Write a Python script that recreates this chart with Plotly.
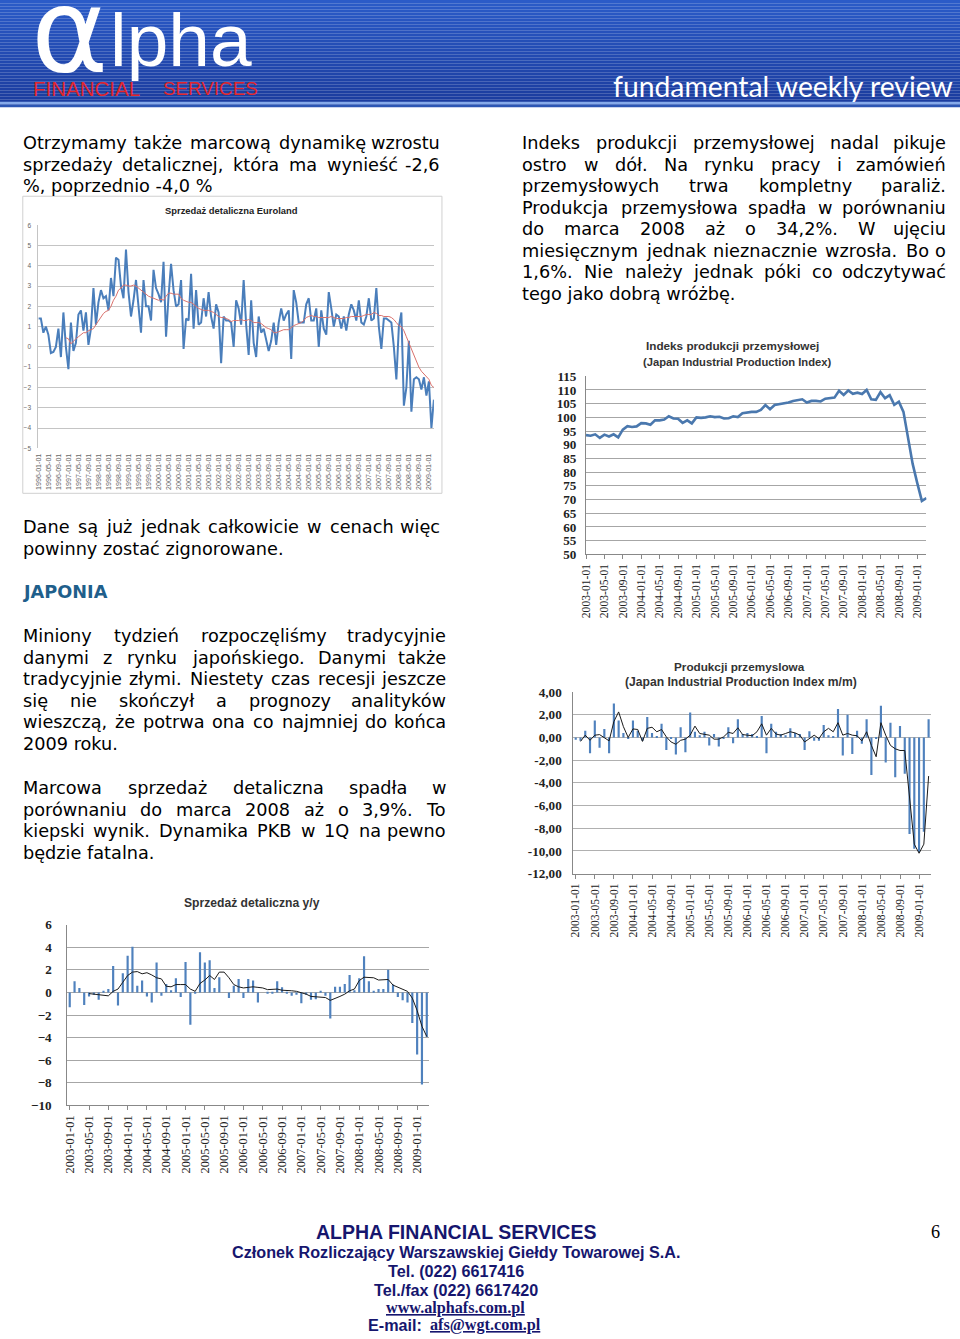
import plotly.graph_objects as go
import pandas as pd

# ------------------------------------------------------------------ DATA
EURO_START = "1996-01-01"
euro_retail = [1.4, 1.4, 0.7, 1.0, 0.6, -0.3, -0.25, 0.0, 0.9, -0.5,
               1.7, 0.0, -1.1, 1.2, -0.2, 0.2, 1.6, 1.8, 0.8, 1.7,
               0.1, 0.9, 2.9, 1.1, 2.2, 2.8, 2.4, 2.5, 1.8, 3.4,
               2.5, 4.4, 4.3, 3.0, 2.4, 4.8, 2.7, 1.5, 2.3, 3.3,
               2.0, 0.7, 3.3, 2.0, 2.0, 1.3, 3.8, 2.9, 2.6, 2.2,
               4.2, 0.5, 2.5, 4.1, 2.8, 2.0, 2.1, 3.3, -0.1, 1.4,
               1.3, 3.6, 0.9, 2.8, 1.1, 1.2, 2.4, 1.5, 2.7, 1.5,
               0.9, 2.1, 1.7, -0.8, 1.5, 1.3, 1.3, 1.2, 0.0, 2.3,
               1.9, 1.1, 3.3, 1.1, -0.4, 2.3, 0.2, -0.5, 1.5, 0.7,
               0.9, 0.3, -0.2, 0.3, 1.2, 0.1, 1.2, 1.9, 1.3, 1.6,
               1.8, -0.6, 2.8, 2.2, 1.2, 1.2, 1.2, 2.1, 2.4, 1.3,
               1.3, 1.9, 0.0, 1.8, 0.9, 0.6, 2.7, 1.9, 1.0, 1.6,
               1.5, 0.9, 1.5, 0.8, 1.6, 2.1, 1.8, 1.3, 2.3, 1.2,
               1.1, 1.5, 2.4, 1.3, 1.4, 2.9, 1.0, -0.1, 1.4, 1.4,
               1.3, 1.2, 0.0, -1.6, 1.0, 1.7, -2.9, -2.0, 0.3,
               -3.2, -1.6, -1.5, -1.6, -2.1, -1.5, -2.4, -1.7, -4.0, -2.6]
euro_trend = [0.45, 0.4, 0.15, 0.3, 0.4, 0.5, 0.6, 0.7, 0.7, 0.8,
              0.85, 0.9, 1.1, 1.3, 1.5, 1.65, 1.75, 1.8, 2.0, 2.3,
              2.5, 2.8, 2.9, 3.05, 3.05, 3.0, 3.0, 3.05, 3.0, 2.9,
              2.8, 2.7, 2.6, 2.5, 2.45, 2.4, 2.35, 2.3, 2.35, 2.3,
              2.5, 2.65, 2.65, 2.6, 2.6, 2.6, 2.4, 2.3, 2.25, 2.2,
              2.2, 2.1, 2.0, 1.9, 1.85, 1.8, 1.8, 1.8, 1.75, 1.7,
              1.6, 1.5, 1.45, 1.45, 1.4, 1.35, 1.25, 1.3, 1.3, 1.3,
              1.35, 1.3, 1.3, 1.35, 1.3, 1.2, 1.2, 1.2, 1.15, 1.05,
              0.95, 0.9, 0.85, 0.7, 0.7, 0.75, 0.8, 0.85, 0.85, 0.85,
              0.95, 1.05, 1.1, 1.15, 1.2, 1.3, 1.45, 1.5, 1.55, 1.5,
              1.5, 1.45, 1.45, 1.45, 1.45, 1.45, 1.5, 1.45, 1.4, 1.4,
              1.4, 1.4, 1.45, 1.45, 1.5, 1.5, 1.5, 1.5, 1.5, 1.55,
              1.6, 1.6, 1.6, 1.7, 1.65, 1.55, 1.55, 1.5, 1.5, 1.5,
              1.45, 1.35, 1.2, 1.05, 1.0, 0.8, 0.5, 0.2, -0.1, -0.4,
              -0.7, -1.0, -1.2, -1.35, -1.45, -1.6, -1.9, -2.0]

JP_START = "2003-01-01"
jp_ip_index = [93.5, 93.3, 93.8, 92.5, 93.7, 93.0, 93.8, 92.7, 95.5, 96.8,
               96.5, 96.7, 97.9, 97.8, 97.3, 98.9, 98.9, 99.2, 100.4, 99.6,
               99.5, 98.0, 98.9, 97.8, 100.0, 99.8, 100.0, 100.4, 100.1, 100.2,
               99.6, 99.7, 100.4, 100.1, 101.5, 101.8, 102.0, 102.0, 102.7, 104.5,
               103.0, 104.5, 104.8, 105.3, 105.4, 106.0, 106.3, 106.6, 105.4, 106.0,
               106.0, 105.8, 106.8, 107.1, 107.2, 109.7, 108.2, 109.8, 108.6, 109.0,
               108.5, 110.0, 106.6, 106.4, 109.2, 107.0, 108.1, 104.6, 105.7, 102.0,
               92.0, 83.0, 76.0, 69.5, 70.5]

jp_ip_mm = [-0.2, -0.3, 0.6, -1.4, 1.5, -0.9, 0.75, -1.4, 3.0, 1.5,
            0.4, -0.1, 1.5, 0.6, -0.3, 1.8, 0.4, 0.1, 1.2, -1.1,
            -0.1, -1.5, 0.9, -1.3, 2.2, 0.5, 0.2, 0.5, -0.7, 0.3,
            -0.8, -0.1, 0.9, -0.5, 1.6, 0.3, 0.4, 0.3, 0.1, 1.9,
            -1.4, 1.2, 0.5, 0.3, 0.2, 0.8, 0.4, 0.3, -1.1, 0.55,
            -0.3, -0.3, 1.1, 0.2, 0.1, 2.5, -1.6, 2.0, -1.45, 0.6,
            -0.55, 1.6, -3.3, -0.1, 2.8, -2.2, 1.3, -3.5, 1.0, -3.2,
            -8.5, -9.8, -10.1, -8.3, 1.6]
jp_ip_mm_trend = [-0.35, 0.2, -0.25, 0.2, 0.25, 0.0, -0.3, 1.4, 2.25,
                  0.95, 0.0, 0.75, 0.7, -0.35, 0.8, 0.9, 0.5, 0.7, 0.05,
                  -0.4, -0.6, -0.25, -0.15, 0.2, 1.0, 0.35, 0.25, 0.2, -0.15,
                  -0.15, 0.05, 0.45, 0.35, 0.85, 0.25, 0.2, 0.15, 0.5, 1.2,
                  0.2, 0.8, 0.3, 0.2, 0.35, 0.5, 0.4, 0.2, -0.4, -0.1,
                  0.2, -0.1, 0.5, 0.8, 0.5, 1.3, 0.2, 0.35, 0.2, 0.15,
                  -0.3, 0.5, -0.7, -1.7, 1.3, 0.2, -0.7, -1.0, -1.15, -1.15,
                  -5.0, -9.4, -10.2, -9.4, -3.4]

jp_retail_yy = [-1.3, 1.0, 0.4, -1.1, -0.35, -0.2, -0.65, 0.15, 0.3, 2.35,
                -1.15, 1.7, 3.25, 4.05, 0.6, 1.05, -0.35, -0.9, 2.65, -0.3,
                0.75, 0.2, 1.25, -0.4, 2.7, -2.85, -0.1, 3.55, 2.65, 2.85,
                0.4, 1.35, 0.0, -0.5, 0.6, 1.2, -0.5, 1.2, 1.05, -0.9,
                0.0, -0.1, -0.1, 1.0, 0.45, -0.1, -0.3, -0.2, -0.95, -0.2,
                -0.65, -0.6, 0.1, -0.3, -2.3, 0.5, 0.5, 0.75, 1.55, 0.2,
                1.25, 3.2, 1.0, 0.1, 0.3, 0.3, 2.0, 0.7, -0.4, -0.7,
                -0.9, -2.7, -5.5, -8.15, -3.95]
jp_retail_yy_trend = [-0.1, -0.15, -0.2, -0.25, -0.3, 0.1, 0.3, 0.9, 1.5, 1.8,
                      1.85, 1.65, 1.75, 1.55, 1.3, 1.2, 0.55, 0.5, 0.7, 0.7,
                      0.7, 0.3, 0.1, 0.8, 1.1, 1.5, 1.15, 1.8, 1.8, 1.3,
                      0.7, 0.5, 0.4, 0.45, 0.5, 0.45, 0.4, 0.25, 0.25, 0.3,
                      0.2, 0.2, 0.15, 0.1, 0.0, -0.15, -0.35, -0.4, -0.4, -0.45,
                      -0.7, -0.55, -0.35, -0.15, 0.15, 0.3, 1.05, 1.35, 1.35, 1.3,
                      1.1, 1.1, 1.15, 0.65, 0.45, 0.3, 0.1, -0.5, -1.6, -3.0, -3.9]

mm_tickvals = [4, 2, 0, -2, -4, -6, -8, -10, -12]
mm_ticktext = ["4,00", "2,00", "0,00", "-2,00", "-4,00", "-6,00", "-8,00", "-10,00", "-12,00"]

# ------------------------------------------------------------------ TEXT
TITLE_EURO = "Sprzedaż detaliczna Euroland"
TITLE_IP = ["Indeks produkcji przemysłowej", "(Japan Industrial Production Index)"]
TITLE_MM = ["Produkcji przemyslowa", "(Japan Industrial Production Index m/m)"]
TITLE_YY = "Sprzedaż detaliczna y/y"

LEFT_PARAS = [
    (23, 440, [143, 164.5, 186], [
        "Otrzymamy także marcową dynamikę wzrostu",
        "sprzedaży detalicznej, która ma wynieść -2,6",
        "%, poprzednio -4,0 %"]),
    (23, 440, [527, 548.5], [
        "Dane są już jednak całkowicie w cenach więc",
        "powinny zostać zignorowane."]),
    (23, 446, [636, 657.5, 679, 700.5, 722, 743.5], [
        "Miniony tydzień rozpoczęliśmy tradycyjnie",
        "danymi z rynku japońskiego. Danymi także",
        "tradycyjnie złymi. Niestety czas recesji jeszcze",
        "się nie skończył a prognozy analityków",
        "wieszczą, że potrwa ona co najmniej do końca",
        "2009 roku."]),
    (23, 446, [788, 809.5, 831, 852.5], [
        "Marcowa sprzedaż detaliczna spadła w",
        "porównaniu do marca 2008 aż o 3,9%. To",
        "kiepski wynik. Dynamika PKB w 1Q na pewno",
        "będzie fatalna."]),
    (520, 943, [143, 164.5, 186, 207.5, 229, 250.5, 272, 293.5], [
        "Indeks produkcji przemysłowej nadal pikuje",
        "ostro w dół. Na rynku pracy i zamówień",
        "przemysłowych trwa kompletny paraliż.",
        "Produkcja przemysłowa spadła w porównaniu",
        "do marca 2008 aż o 34,2%. W ujęciu",
        "miesięcznym jednak nieznacznie wzrosła. Bo o",
        "1,6%. Nie należy jednak póki co odczytywać",
        "tego jako dobrą wróżbę."]),
]

FOOTER = ["ALPHA FINANCIAL SERVICES",
          "Członek Rozliczający Warszawskiej Giełdy Towarowej S.A.",
          "Tel. (022) 6617416",
          "Tel./fax (022) 6617420"]

# ------------------------------------------------------------------ HELPERS
# The page photo shows the figure slightly shrunk and offset (page margin), so
# reference pixel positions are mapped through that measured transform.
W, H = 960, 1339
S, OX, OY = 0.9886, 7.3, 6.8


def px(x):
    return (x - OX) / S / W


def py(y):
    return 1 - (y - OY) / S / H


def fs(size):
    return size / S


DV = {' ': 651, '!': 823, '%': 1946, '(': 799, ')': 799, ',': 651, '-': 739, '.': 651, '/': 690, ':': 690,
      'A': 1401, 'B': 1405, 'C': 1430, 'D': 1577, 'E': 1294, 'F': 1178, 'G': 1587, 'H': 1540, 'I': 604,
      'J': 604, 'K': 1343, 'L': 1141, 'M': 1767, 'N': 1532, 'O': 1612, 'P': 1235, 'Q': 1612, 'R': 1423,
      'S': 1300, 'T': 1251, 'U': 1499, 'V': 1401, 'W': 2025, 'X': 1403, 'Y': 1251, 'Z': 1403,
      'a': 1255, 'b': 1300, 'c': 1126, 'd': 1300, 'e': 1260, 'f': 721, 'g': 1300, 'h': 1298, 'i': 569,
      'j': 569, 'k': 1186, 'l': 569, 'm': 1995, 'n': 1298, 'o': 1253, 'p': 1300, 'q': 1300, 'r': 842,
      's': 1067, 't': 803, 'u': 1298, 'v': 1212, 'w': 1675, 'x': 1212, 'y': 1212, 'z': 1075}
for d in "0123456789":
    DV[d] = 1303
ALIAS = {'ą': 'a', 'ę': 'e', 'ć': 'c', 'ł': 'l', 'ń': 'n', 'ó': 'o', 'ś': 's', 'ź': 'z', 'ż': 'z',
         'Ż': 'Z', 'Ł': 'L', 'Ś': 'S'}


def text_w(s, size):
    """estimated on-page width (reference pixels) of a DejaVu Sans string"""
    return sum(DV.get(ALIAS.get(c, c), 1250) for c in s) / 2048.0 * size


BODY_SIZE = 17.5
BODY_FONT = "DejaVu Sans"

fig = go.Figure()
annotations = []
shapes = []


def add_text(x, y, text, size, family=BODY_FONT, color="#000000", xanchor="left", weight="normal",
             style="normal"):
    annotations.append(dict(x=px(x), y=py(y), xref="paper", yref="paper", text=text, showarrow=False,
                            xanchor=xanchor, yanchor="middle", borderpad=0,
                            font=dict(size=fs(size), family=family, color=color, weight=weight,
                                      style=style)))


def rect(x0, y0, x1, y1, **kw):
    shapes.append(dict(type="rect", xref="paper", yref="paper", x0=px(x0), x1=px(x1), y0=py(y1), y1=py(y0),
                       **kw))


# ------------------------------------------------------------------ HEADER
def mix(c1, c2, t):
    a = [int(c1[i:i + 2], 16) for i in (1, 3, 5)]
    b = [int(c2[i:i + 2], 16) for i in (1, 3, 5)]
    return "#%02x%02x%02x" % tuple(int(a[k] + (b[k] - a[k]) * t) for k in range(3))


band = 3
for y0 in range(0, 102, band):
    rect(-10, y0 - (10 if y0 == 0 else 0), 980, min(y0 + band, 102),
         fillcolor=mix("#2b5bc8", "#1b3c9e", y0 / 102.0), line_width=0, layer="below")
rect(-10, 101.5, 980, 104, fillcolor="#86aaea", line_width=0, layer="below")
rect(-10, 104, 980, 107, fillcolor="#2c56b4", line_width=0, layer="below")

add_text(31, 30, "α", 116, family="DejaVu Sans", color="#ffffff")
add_text(110, 40, "lpha", 74, family="Liberation Sans", color="#ffffff")
add_text(33, 88.5, "FINANCIAL", 20.3, family="Liberation Sans", color="#e3262c")
add_text(162, 88.5, "SERVICES", 18.6, family="Liberation Sans", color="#e3262c")
add_text(950, 86, "fundamental weekly review", 28, family="Lato", color="#ffffff", xanchor="right")

# ------------------------------------------------------------------ BODY TEXT
for left, right, ys, lines in LEFT_PARAS:
    for li, (line, yy) in enumerate(zip(lines, ys)):
        if li == len(lines) - 1:
            add_text(left, yy, line, BODY_SIZE)
            continue
        words = line.split(" ")
        widths = [text_w(w, BODY_SIZE) for w in words]
        gap = (right - left - sum(widths)) / (len(words) - 1)
        x = left
        for wi, (wd, ww) in enumerate(zip(words, widths)):
            if wi == len(words) - 1:
                add_text(right, yy, wd, BODY_SIZE, xanchor="right")
            else:
                add_text(x, yy, wd, BODY_SIZE)
            x += ww + gap

add_text(23, 592, "JAPONIA", BODY_SIZE, color="#1f5f8b", weight="bold")

# ------------------------------------------------------------------ FOOTER
NAVY = "#16166e"
add_text(454.5, 1232, FOOTER[0], 19.3, family="Liberation Sans", color=NAVY, xanchor="center", weight="bold")
add_text(454.5, 1251.5, FOOTER[1], 16, family="Liberation Sans", color=NAVY, xanchor="center", weight="bold")
add_text(454.5, 1270.5, FOOTER[2], 16, family="Liberation Sans", color=NAVY, xanchor="center", weight="bold")
add_text(454.5, 1289.5, FOOTER[3], 16, family="Liberation Sans", color=NAVY, xanchor="center", weight="bold")
add_text(454.5, 1308, "<u>www.alphafs.com.pl</u>", 16, family="Liberation Serif", color=NAVY,
         xanchor="center", weight="bold")
add_text(426, 1324.5, "E-mail: ", 16, family="Liberation Sans", color=NAVY, xanchor="right", weight="bold")
add_text(428, 1324.5, "<u>afs@wgt.com.pl</u>", 16, family="Liberation Serif", color=NAVY, weight="bold")
add_text(932, 1232, "6", 18, family="Liberation Serif", color="#000000", xanchor="center")

# ------------------------------------------------------------------ CHARTS
euro_cats = pd.date_range(EURO_START, periods=len(euro_retail), freq="MS").strftime("%Y-%m-%d").tolist()
jp_cats = pd.date_range(JP_START, periods=len(jp_ip_index), freq="MS").strftime("%Y-%m-%d").tolist()
euro_trend_full = [None] * (len(euro_retail) - len(euro_trend)) + euro_trend
mm_trend_full = [None] * (len(jp_ip_mm) - len(jp_ip_mm_trend)) + jp_ip_mm_trend
yy_trend_full = [None] * (len(jp_retail_yy) - len(jp_retail_yy_trend)) + jp_retail_yy_trend

BLUE = "#4a7ebb"
BAR = "#4f81bd"

# chart 1
fig.add_trace(go.Scatter(x=euro_cats, y=euro_retail, mode="lines", line=dict(color=BLUE, width=2),
                         xaxis="x", yaxis="y", showlegend=False))
fig.add_trace(go.Scatter(x=euro_cats, y=euro_trend_full, mode="lines", line=dict(color="#d9716c", width=1),
                         xaxis="x", yaxis="y", showlegend=False))
# chart 2
fig.add_trace(go.Scatter(x=jp_cats, y=jp_ip_index, mode="lines", line=dict(color="#4a78ae", width=2.6),
                         xaxis="x2", yaxis="y2", showlegend=False))
# chart 3
fig.add_trace(go.Bar(x=jp_cats, y=jp_ip_mm, marker=dict(color=BAR, line_width=0),
                     xaxis="x3", yaxis="y3", showlegend=False))
fig.add_trace(go.Scatter(x=jp_cats, y=mm_trend_full, mode="lines", line=dict(color="#1a1a1a", width=1),
                         xaxis="x3", yaxis="y3", showlegend=False))
# chart 4
fig.add_trace(go.Bar(x=jp_cats, y=jp_retail_yy, marker=dict(color=BAR, line_width=0),
                     xaxis="x4", yaxis="y4", showlegend=False))
fig.add_trace(go.Scatter(x=jp_cats, y=yy_trend_full, mode="lines", line=dict(color="#1a1a1a", width=1),
                         xaxis="x4", yaxis="y4", showlegend=False))

SERIF = "Liberation Serif"
common_x = dict(type="category", tickangle=-90, showgrid=False, zeroline=False)

layout = dict(
    width=W, height=H, autosize=False, margin=dict(l=0, r=0, t=0, b=0),
    paper_bgcolor="#ffffff", plot_bgcolor="rgba(0,0,0,0)", bargap=0.55, showlegend=False,
    xaxis=dict(common_x, domain=[px(39.5), px(433)], anchor="y", tickvals=euro_cats[::4], ticktext=euro_cats[::4],
               tickfont=dict(size=fs(7), family="Liberation Sans", color="#666666"), ticks="", showline=False,
               ticklabelstandoff=3),
    yaxis=dict(domain=[py(448), py(225)], anchor="x", range=[-5, 6], dtick=1, showgrid=True, gridcolor="#c4c4c4",
               gridwidth=1, zeroline=False, showline=True, linecolor="#c4c4c4", ticks="",
               tickfont=dict(size=fs(6.5), family="Liberation Sans", color="#666666"), ticklabelstandoff=5),
    xaxis2=dict(common_x, domain=[px(584.3), px(923)], anchor="y2", tickvals=jp_cats[::4], ticktext=jp_cats[::4],
                tickfont=dict(size=fs(11.5), family=SERIF, color="#222222"), ticks="outside", ticklen=4,
                tickcolor="#888888", showline=True, linecolor="#888888", linewidth=1),
    yaxis2=dict(domain=[py(554), py(376)], anchor="x2", range=[50, 115], dtick=5, showgrid=True,
                gridcolor="#a6a6a6", gridwidth=1.3, zeroline=False, showline=True, linecolor="#888888",
                ticks="", tickfont=dict(size=fs(13), family=SERIF, color="#222222", weight="bold"),
                ticklabelstandoff=6),
    xaxis3=dict(common_x, domain=[px(571.7), px(927.5)], anchor="y3", tickvals=jp_cats[::4], ticktext=jp_cats[::4],
                tickfont=dict(size=fs(11.5), family=SERIF, color="#222222"), ticks="outside", ticklen=4,
                tickcolor="#888888", showline=True, linecolor="#888888", linewidth=1),
    yaxis3=dict(domain=[py(873.3), py(691.7)], anchor="x3", range=[-12, 4], tickvals=mm_tickvals,
                ticktext=mm_ticktext, showgrid=True, gridcolor="#b0b0b0", gridwidth=1.2, zeroline=False,
                showline=True, linecolor="#888888", ticks="",
                tickfont=dict(size=fs(13), family=SERIF, color="#222222", weight="bold"), ticklabelstandoff=8),
    xaxis4=dict(common_x, domain=[px(68.3), px(428.3)], anchor="y4", tickvals=jp_cats[::4], ticktext=jp_cats[::4],
                tickfont=dict(size=fs(12.3), family=SERIF, color="#222222"), ticks="outside", ticklen=4,
                tickcolor="#888888", showline=True, linecolor="#888888", linewidth=1),
    yaxis4=dict(domain=[py(1105), py(924.3)], anchor="x4", range=[-10, 6], dtick=2, showgrid=True,
                gridcolor="#a6a6a6", gridwidth=1.2, zeroline=False, showline=True, linecolor="#888888",
                ticks="", tickfont=dict(size=fs(13), family=SERIF, color="#222222", weight="bold"),
                ticklabelstandoff=12),
)

# chart frame / titles
rect(24, 196, 441, 493, line=dict(color="#d0d0d0", width=1), fillcolor="rgba(0,0,0,0)")
TITLE_FONT = "Liberation Sans"
add_text(231.5, 210, TITLE_EURO, 9.3, family=TITLE_FONT, color="#222222", xanchor="center", weight="bold")
add_text(730.5, 345, TITLE_IP[0], 11.6, family=TITLE_FONT, color="#333333", xanchor="center", weight="bold")
add_text(735.5, 361.5, TITLE_IP[1], 11.1, family=TITLE_FONT, color="#333333", xanchor="center", weight="bold")
add_text(737, 666, TITLE_MM[0], 11.6, family=TITLE_FONT, color="#333333", xanchor="center", weight="bold")
add_text(738, 682, TITLE_MM[1], 12, family=TITLE_FONT, color="#333333", xanchor="center", weight="bold")
add_text(252.3, 903, TITLE_YY, 12, family=TITLE_FONT, color="#333333", xanchor="center", weight="bold")

layout["annotations"] = annotations
layout["shapes"] = shapes
fig.update_layout(**layout)
fig.write_html("out.html")
